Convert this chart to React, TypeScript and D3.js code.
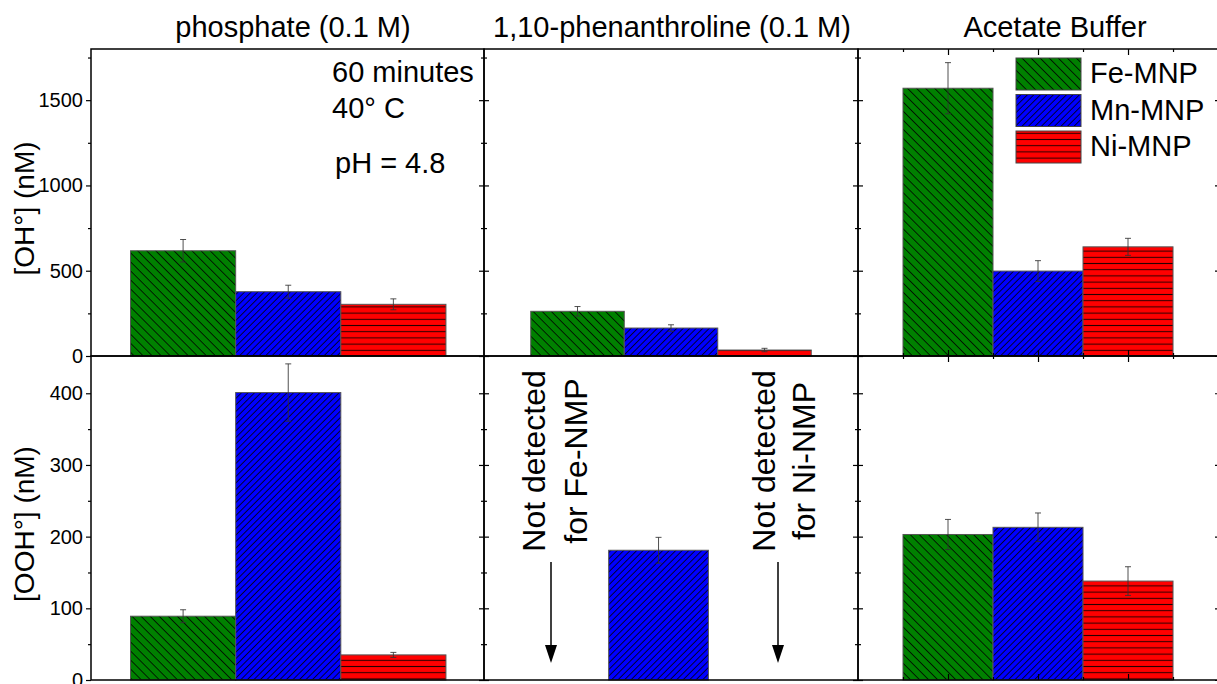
import React, { useRef, useEffect } from 'react';
import { select, scaleLinear, axisLeft, axisRight, axisTop, axisBottom } from 'd3';

const W = 1217;
const H = 684;
const FONT = "'Liberation Sans', Arial, sans-serif";

// series / colours
const seriesNames = ['Fe-MNP', 'Mn-MNP', 'Ni-MNP'];
const seriesColors = ['#008000', '#0000ff', '#ff0000'];
const mediaTitles = ['phosphate (0.1 M)', '1,10-phenanthroline (0.1 M)', 'Acetate Buffer'];

// [OH°] (nM), top row
const ohPhosphate = [617, 377, 303];
const ohPhosphateErr = [66, 38, 32];
const ohPhen = [262, 164, 35];
const ohPhenErr = [28, 19, 10];
const ohAcetate = [1570, 498, 640];
const ohAcetateErr = [150, 61, 50];

// [OOH°] (nM), bottom row (null = not detected)
const oohPhosphate = [89, 401, 35];
const oohPhosphateErr = [9, 40, 3.5];
const oohPhen = [null, 181, null];
const oohPhenErr = [0, 18, 0];
const oohAcetate = [203, 213, 138];
const oohAcetateErr = [21, 20, 20];

const ohMajor = [0, 500, 1000, 1500];
const ohMinor = [250, 750, 1250, 1750];
const oohMajor = [0, 100, 200, 300, 400];
const oohMinor = [50, 150, 250, 350];
const xMajor = [1, 2, 3];
const xMinor = [0.5, 1.5, 2.5, 3.5];

const rows = [
  { y0: 49, y1: 356, domain: [0, 1800], major: ohMajor, minor: ohMinor, label: '[OH°] (nM)' },
  { y0: 356, y1: 680, domain: [0, 452], major: oohMajor, minor: oohMinor, label: '[OOH°] (nM)' },
];

const cols = [
  { x0: 91, x1: 484, dom: [[0.124, 3.862], [0.124, 3.862]] },
  { x0: 484, x1: 858, dom: [[0, 4], [0.25, 4]] },
  { x0: 858, x1: 1220, dom: [[0, 4.022], [0, 4.022]] },
];

const panelData = [
  [[ohPhosphate, ohPhosphateErr], [ohPhen, ohPhenErr], [ohAcetate, ohAcetateErr]],
  [[oohPhosphate, oohPhosphateErr], [oohPhen, oohPhenErr], [oohAcetate, oohAcetateErr]],
];

const hatchIds = ['hatch-fe', 'hatch-mn', 'hatch-ni'];

export default function App() {
  const svgRef = useRef(null);

  useEffect(() => {
    const svg = select(svgRef.current);
    svg.selectAll('*').remove();

    // hatch patterns
    const defs = svg.append('defs');
    const fe = defs.append('pattern').attr('id', hatchIds[0]).attr('patternUnits', 'userSpaceOnUse')
      .attr('width', 6.4).attr('height', 6.4).attr('patternTransform', 'rotate(-45)');
    fe.append('line').attr('x1', 3.2).attr('x2', 3.2).attr('y1', 0).attr('y2', 6.4)
      .attr('stroke', '#000').attr('stroke-width', 0.9).attr('stroke-opacity', 0.85);
    const mn = defs.append('pattern').attr('id', hatchIds[1]).attr('patternUnits', 'userSpaceOnUse')
      .attr('width', 4.6).attr('height', 4.6).attr('patternTransform', 'rotate(45)');
    mn.append('line').attr('x1', 2.3).attr('x2', 2.3).attr('y1', 0).attr('y2', 4.6)
      .attr('stroke', '#000').attr('stroke-width', 0.9).attr('stroke-opacity', 0.85);
    const ni = defs.append('pattern').attr('id', hatchIds[2]).attr('patternUnits', 'userSpaceOnUse')
      .attr('width', 10).attr('height', 6.2);
    ni.append('line').attr('x1', 0).attr('x2', 10).attr('y1', 3.1).attr('y2', 3.1)
      .attr('stroke', '#000').attr('stroke-width', 1).attr('stroke-opacity', 0.85);

    svg.append('rect').attr('width', W).attr('height', H).attr('fill', '#fff');

    const tickAxis = (g, axisFn, scale, pos, horizontal, values, len, labels) => {
      const ax = axisFn(scale).tickValues(values).tickSize(len).tickPadding(3)
        .tickFormat(labels ? (d) => String(d) : () => '');
      const a = g.append('g')
        .attr('transform', horizontal ? `translate(0,${pos})` : `translate(${pos},0)`)
        .call(ax);
      a.select('.domain').remove();
      a.selectAll('line').attr('stroke', '#000').attr('stroke-width', 1.2);
      a.attr('font-size', 20).attr('font-family', FONT);
      a.selectAll('text').attr('fill', '#000');
    };

    rows.forEach((row, r) => {
      cols.forEach((col, c) => {
        const [vals, errs] = panelData[r][c];
        const x = scaleLinear().domain(col.dom[r]).range([col.x0, col.x1]);
        const y = scaleLinear().domain(row.domain).range([row.y1, row.y0]);
        const g = svg.append('g');

        vals.forEach((v, i) => {
          if (v == null) return;
          const bx = x(i + 0.5);
          const bw = x(i + 1.5) - x(i + 0.5);
          const by = y(v);
          const bh = y(0) - y(v);
          g.append('rect').attr('x', bx).attr('y', by).attr('width', bw).attr('height', bh)
            .attr('fill', seriesColors[i]);
          g.append('rect').attr('x', bx).attr('y', by).attr('width', bw).attr('height', bh)
            .attr('fill', `url(#${hatchIds[i]})`).attr('stroke', '#555').attr('stroke-width', 1);
        });

        // error bars
        vals.forEach((v, i) => {
          if (v == null) return;
          const cx = x(i + 1);
          const e = errs[i];
          const eb = g.append('g').attr('stroke', '#333').attr('stroke-width', 1).attr('stroke-opacity', 0.85);
          eb.append('line').attr('x1', cx).attr('x2', cx).attr('y1', y(v - e)).attr('y2', y(v + e));
          eb.append('line').attr('x1', cx - 3).attr('x2', cx + 3).attr('y1', y(v - e)).attr('y2', y(v - e));
          eb.append('line').attr('x1', cx - 3).attr('x2', cx + 3).attr('y1', y(v + e)).attr('y2', y(v + e));
        });

        // y ticks
        if (c === 0) {
          tickAxis(g, axisLeft, y, col.x0, false, row.major, 5, true);
          tickAxis(g, axisLeft, y, col.x0, false, row.minor, 3, false);
        } else {
          tickAxis(g, axisRight, y, col.x0, false, row.major, 5, false);
          tickAxis(g, axisRight, y, col.x0, false, row.minor, 3, false);
        }
        tickAxis(g, axisLeft, y, col.x1, false, row.major, 5, false);
        tickAxis(g, axisLeft, y, col.x1, false, row.minor, 3, false);

        // x ticks only on the acetate column
        if (c === 2) {
          tickAxis(g, axisBottom, x, row.y0, true, xMajor, 6, false);
          tickAxis(g, axisBottom, x, row.y0, true, xMinor, 3, false);
          tickAxis(g, axisTop, x, row.y1, true, xMajor, 6, false);
          tickAxis(g, axisTop, x, row.y1, true, xMinor, 3, false);
        }

        g.append('rect').attr('x', col.x0).attr('y', row.y0)
          .attr('width', col.x1 - col.x0).attr('height', row.y1 - row.y0)
          .attr('fill', 'none').attr('stroke', '#000').attr('stroke-width', 1.5);
      });

      // y axis title
      const cy = (row.y0 + row.y1) / 2 + 6;
      svg.append('text').attr('transform', `translate(34,${cy}) rotate(-90)`)
        .attr('text-anchor', 'middle').attr('font-family', FONT).attr('font-size', 28)
        .text(row.label);
    });

    // column titles
    const titleX = [293, 672, 1055];
    mediaTitles.forEach((t, i) => {
      svg.append('text').attr('x', titleX[i]).attr('y', 37).attr('text-anchor', 'middle')
        .attr('font-family', FONT).attr('font-size', 29).text(t);
    });

    // conditions note
    const note = svg.append('g').attr('font-family', FONT).attr('font-size', 29);
    note.append('text').attr('x', 332).attr('y', 82).text('60 minutes');
    note.append('text').attr('x', 332).attr('y', 118).text('40° C');
    note.append('text').attr('x', 335).attr('y', 173).text('pH = 4.8');

    // legend
    const lg = svg.append('g');
    seriesNames.forEach((name, i) => {
      const ly = 58 + i * 36.5;
      lg.append('rect').attr('x', 1016).attr('y', ly).attr('width', 65).attr('height', 32)
        .attr('fill', seriesColors[i]);
      lg.append('rect').attr('x', 1016).attr('y', ly).attr('width', 65).attr('height', 32)
        .attr('fill', `url(#${hatchIds[i]})`).attr('stroke', '#444').attr('stroke-width', 1);
      lg.append('text').attr('x', 1090).attr('y', ly + 25).attr('font-family', FONT)
        .attr('font-size', 29).text(name);
    });

    // "not detected" notes in the phenanthroline OOH panel
    const notes = [
      { xa: 545, xb: 587, ax: 551, second: 'for Fe-NMP' },
      { xa: 775, xb: 815, ax: 778, second: 'for Ni-NMP' },
    ];
    notes.forEach((n) => {
      const t = svg.append('g').attr('font-family', FONT).attr('font-size', 32).attr('text-anchor', 'middle');
      t.append('text').attr('transform', `translate(${n.xa},461) rotate(-90)`).text('Not detected');
      t.append('text').attr('transform', `translate(${n.xb},461) rotate(-90)`).text(n.second);
      svg.append('line').attr('x1', n.ax).attr('x2', n.ax).attr('y1', 562).attr('y2', 648)
        .attr('stroke', '#000').attr('stroke-width', 1.5);
      svg.append('path').attr('d', `M${n.ax - 6},645 L${n.ax + 6},645 L${n.ax},663 Z`).attr('fill', '#000');
    });
  }, []);

  return (
    <svg ref={svgRef} width={W} height={H}
      style={{ position: 'absolute', left: 0, top: 0, display: 'block' }} />
  );
}
